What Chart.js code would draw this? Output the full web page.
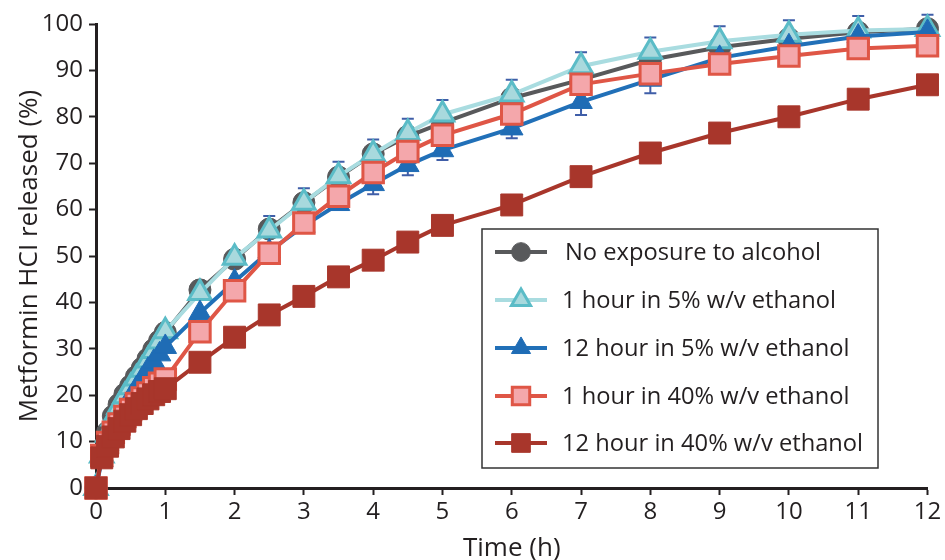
<!DOCTYPE html>
<html lang="en">
<head>
<meta charset="UTF-8">
<title>Metformin HCl release</title>
<script src="https://cdn.jsdelivr.net/npm/chart.js@4.4.1/dist/chart.umd.min.js"></script>
<style>
  html, body { margin: 0; padding: 0; background: #fff; }
  #wrap { width: 945px; height: 560px; position: relative; }
</style>
</head>
<body>
<div id="wrap"><canvas id="myChart"></canvas></div>
<script>
// sampling times (h)
const times = [0, 0.083, 0.167, 0.25, 0.333, 0.417, 0.5, 0.583, 0.667, 0.75, 0.833, 0.917, 1,
               1.5, 2, 2.5, 3, 3.5, 4, 4.5, 5, 6, 7, 8, 9, 10, 11, 12];

// % released
const noExposure  = [0, 7.5, 12, 15.5, 18, 20.2, 22, 24, 25.8, 27.8, 29.8, 31.7, 33.5,
                     42.7, 49.3, 55.8, 61.5, 67, 72, 75.8, 78.7, 84, 88, 92.3, 95, 96.8, 98.2, 99];
const oneHour5    = [0, 7, 11.5, 15, 17.5, 19.8, 21.7, 23.6, 25.5, 27.5, 29.5, 31.6, 33.8,
                     42, 49.6, 55.5, 61.5, 67.2, 72, 76.5, 80.5, 84.8, 90.9, 94, 96.3, 97.7, 98.6, 98.9];
const twelveHour5 = [0, 6, 9.5, 12.5, 15, 17.3, 19.5, 21.5, 23.5, 25.5, 27.2, 28.8, 30.4,
                     37.7, 44.5, 51, 56.5, 61.2, 65.5, 69.6, 72.8, 77.5, 83.2, 88, 92.7, 95.2, 97.3, 98.3];
const oneHour40   = [0, 7, 9.8, 12, 13.8, 15.4, 16.9, 18.2, 19.4, 20.5, 21.6, 22.6, 23.5,
                     33.7, 42.5, 50.6, 57.1, 62.9, 68, 72.5, 76, 80.6, 87, 89.3, 91.4, 93.1, 94.7, 95.3];
const twelveHour40 = [0, 6.5, 9, 11, 12.8, 14.4, 15.8, 17.1, 18.2, 19.2, 20.1, 20.8, 21.4,
                     27.1, 32.5, 37.3, 41.3, 45.5, 49.1, 53, 56.6, 61, 67.1, 72.2, 76.5, 80, 83.8, 86.9];

// error bars (upper for 1 h in 5%, lower for 12 h in 5%)
const oneHour5Err    = [0, 0, 0, 0, 0, 0, 0, 0, 0, 0, 0, 0, 0,
                        0, 0, 3.1, 3.1, 3.1, 3.1, 3.1, 3.1, 3.2, 3.0, 3.1, 3.2, 3.1, 3.1, 3.1];
const twelveHour5Err = [0, 0, 0, 0, 0, 0, 0, 0, 0, 0, 0, 0, 0,
                        0, 0, 0, 0, 0, 2.2, 2.2, 2.1, 2.1, 2.8, 2.9, 0, 0, 0, 0];

const seriesNames = ['No exposure to alcohol', '1 hour in 5% w/v ethanol', '12 hour in 5% w/v ethanol',
                     '1 hour in 40% w/v ethanol', '12 hour in 40% w/v ethanol'];

const FONT = "'Open Sans', 'Noto Sans', sans-serif";
const INK = '#231f20';

function pts(vals) { return times.map((t, i) => ({x: t, y: vals[i]})); }

const styles = [
  {line: '#58595b', fill: '#58595b', border: '#58595b', bw: 1, shape: 'circle',   r: 11},
  {line: '#a9dce0', fill: '#a8d9dd', border: '#5bbcc7', bw: 3, shape: 'triangle', r: 13},
  {line: '#2170b8', fill: '#1f6cb5', border: '#1f6cb5', bw: 1, shape: 'triangle', r: 13},
  {line: '#df5646', fill: '#f4a7ab', border: '#df5646', bw: 3, shape: 'rect',     r: 14.5},
  {line: '#a8362b', fill: '#a8362b', border: '#a8362b', bw: 1, shape: 'rect',     r: 15.5}
];
const values = [noExposure, oneHour5, twelveHour5, oneHour40, twelveHour40];

const datasets = values.map((v, i) => ({
  label: seriesNames[i],
  data: pts(v),
  borderColor: styles[i].line,
  borderWidth: 4,
  pointStyle: styles[i].shape,
  pointRadius: styles[i].r,
  pointBackgroundColor: styles[i].fill,
  pointBorderColor: styles[i].border,
  pointBorderWidth: styles[i].bw,
  tension: 0,
  clip: false,
  order: 5 - i
}));

const errorBars = {
  id: 'errorBars',
  beforeDatasetsDraw(chart) {
    const {ctx, scales: {x, y}} = chart;
    ctx.save();
    ctx.strokeStyle = '#3f5ea8';
    ctx.lineWidth = 2;
    function draw(vals, errs, dir) {
      times.forEach((t, i) => {
        if (!errs[i]) return;
        const px = x.getPixelForValue(t);
        const y0 = y.getPixelForValue(vals[i]);
        const y1 = y.getPixelForValue(vals[i] + dir * errs[i]);
        ctx.beginPath();
        ctx.moveTo(px, y0); ctx.lineTo(px, y1);
        ctx.moveTo(px - 6, y1); ctx.lineTo(px + 6, y1);
        ctx.stroke();
      });
    }
    draw(oneHour5, oneHour5Err, 1);
    draw(twelveHour5, twelveHour5Err, -1);
    ctx.restore();
  }
};

const boxLegend = {
  id: 'boxLegend',
  afterDraw(chart) {
    const ctx = chart.ctx;
    const bx = 482, by = 229, bw = 396, bh = 239;
    const rows = [252, 300, 348, 396, 443];
    ctx.save();
    ctx.fillStyle = '#fff';
    ctx.fillRect(bx, by, bw, bh);
    ctx.strokeStyle = '#333';
    ctx.lineWidth = 1.5;
    ctx.strokeRect(bx, by, bw, bh);
    styles.forEach((s, i) => {
      const yy = rows[i];
      ctx.strokeStyle = s.line;
      ctx.lineWidth = 4;
      ctx.beginPath(); ctx.moveTo(495, yy); ctx.lineTo(547, yy); ctx.stroke();
      ctx.fillStyle = s.fill;
      ctx.strokeStyle = s.border;
      ctx.lineWidth = s.bw;
      Chart.helpers.drawPoint(ctx, {pointStyle: s.shape, radius: s.r * 0.85, borderWidth: s.bw, rotation: 0}, 521, yy);
      ctx.fillStyle = INK;
      ctx.font = '23.7px ' + FONT;
      ctx.textBaseline = 'middle';
      ctx.fillText(seriesNames[i], i === 0 ? 565 : 562, yy + 1);
    });
    ctx.restore();
  }
};

const ctx = document.getElementById('myChart').getContext('2d');
new Chart(ctx, {
  type: 'line',
  data: {datasets: datasets},
  options: {
    responsive: true,
    maintainAspectRatio: false,
    animation: false,
    layout: {padding: {top: 24, right: 13, left: 0, bottom: 0}},
    plugins: {legend: {display: false}, tooltip: {enabled: false}},
    scales: {
      x: {
        type: 'linear', min: 0, max: 12,
        afterFit(s) { s.height = 72; },
        ticks: {stepSize: 1, autoSkip: false, maxRotation: 0, padding: 3, color: INK, font: {family: FONT, size: 24}},
        grid: {drawOnChartArea: false, drawTicks: true, tickLength: 7, tickWidth: 2, tickColor: INK},
        border: {display: true, color: INK, width: 3},
        title: {display: true, text: 'Time (h)', color: INK, font: {family: FONT, size: 26}, padding: {top: 0, bottom: -4}}
      },
      y: {
        type: 'linear', min: 0, max: 100,
        afterFit(s) { s.width = 96; },
        ticks: {stepSize: 10, padding: 6, color: INK, font: {family: FONT, size: 24}},
        grid: {drawOnChartArea: false, drawTicks: true, tickLength: 7, tickWidth: 2, tickColor: INK},
        border: {display: true, color: INK, width: 3},
        title: {display: true, text: 'Metformin HCI released (%)', color: INK, font: {family: FONT, size: 26}, padding: {top: 14, bottom: 0}}
      }
    }
  },
  plugins: [errorBars, boxLegend]
});
</script>
</body>
</html>
